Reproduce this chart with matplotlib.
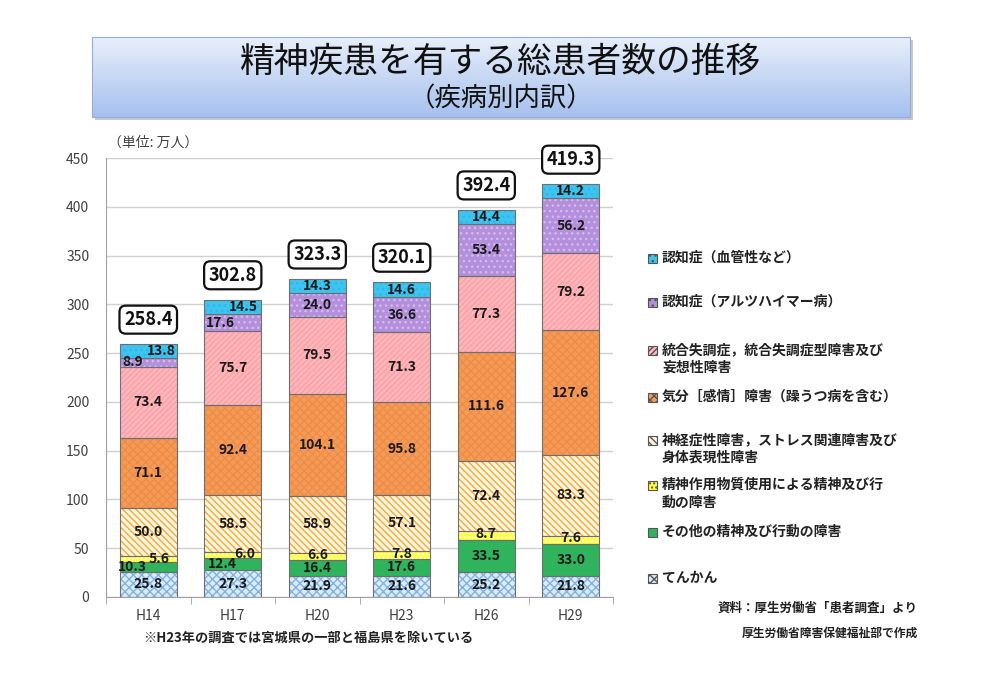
import numpy as np
import matplotlib
matplotlib.use("Agg")
import matplotlib.pyplot as plt
from matplotlib.patches import Rectangle

plt.rcParams['font.family'] = ['Noto Sans CJK JP', 'DejaVu Sans']
plt.rcParams['hatch.linewidth'] = 1.0

# データ（単位: 万人）
years = ['H14', 'H17', 'H20', 'H23', 'H26', 'H29']
tenkan = [25.8, 27.3, 21.9, 21.6, 25.2, 21.8]
sonota = [10.3, 12.4, 16.4, 17.6, 33.5, 33.0]
busshitsu = [5.6, 6.0, 6.6, 7.8, 8.7, 7.6]
shinkei = [50.0, 58.5, 58.9, 57.1, 72.4, 83.3]
kibun = [71.1, 92.4, 104.1, 95.8, 111.6, 127.6]
togo = [73.4, 75.7, 79.5, 71.3, 77.3, 79.2]
alz = [8.9, 17.6, 24.0, 36.6, 53.4, 56.2]
kekkan = [13.8, 14.5, 14.3, 14.6, 14.4, 14.2]
totals = [258.4, 302.8, 323.3, 320.1, 392.4, 419.3]

series_names = [
    'てんかん',
    'その他の精神及び行動の障害',
    '精神作用物質使用による精神及び行\n動の障害',
    '神経症性障害，ストレス関連障害及び\n身体表現性障害',
    '気分［感情］障害（躁うつ病を含む）',
    '統合失調症，統合失調症型障害及び\n妄想性障害',
    '認知症（アルツハイマー病）',
    '認知症（血管性など）',
]
series = [tenkan, sonota, busshitsu, shinkei, kibun, togo, alz, kekkan]

# (面の色, ハッチ, ハッチの色)
styles = [
    ('#dcebf8', 'xxxx', '#7fb3e3'),
    ('#2fb35c', '', '#2fb35c'),
    ('#ffff3a', '....', '#ffffff'),
    ('#fff6e2', '\\\\\\\\\\', '#f6a833'),
    ('#f59b58', 'xxxx', '#ef8d48'),
    ('#ffb5b9', '//////', '#f7a2a7'),
    ('#b48fdb', '...', '#d3bdf0'),
    ('#3cc5f0', '...', '#33b6e2'),
]

# 小さい値のラベル位置の微調整 (年, 系列) -> (x, y) のずれ
label_shift = {(0, 1): (-0.19, 0), (0, 2): (0.13, 0), (0, 6): (-0.18, 0), (0, 7): (0.16, 0),
               (1, 1): (-0.12, 0), (1, 2): (0.14, 1.5), (1, 6): (-0.15, 0), (1, 7): (0.12, 0),
               (2, 2): (0, 1.5), (3, 2): (0, 1), (4, 2): (0, 1.5), (5, 2): (0, 1.5)}

fig = plt.figure(figsize=(10.02, 6.83), dpi=100)
W, H = 1002, 683

def fx(px):
    return px / W

def fy(py):
    return 1 - py / H

# タイトルボックス（影 + グラデーション）
sax = fig.add_axes([fx(95), fy(120), fx(818), 80 / H])
sax.set_facecolor('#c8c8c8')
sax.set_xticks([])
sax.set_yticks([])
for s in sax.spines.values():
    s.set_visible(False)
tax = fig.add_axes([fx(92), fy(117), fx(818), 80 / H])
top_c = np.array(matplotlib.colors.to_rgb('#e8effa'))
bot_c = np.array(matplotlib.colors.to_rgb('#a6c0ee'))
t = np.linspace(0, 1, 100)[:, None]
grad = (top_c[None, :] * (1 - t) + bot_c[None, :] * t)[:, None, :]
tax.imshow(grad, aspect='auto', extent=[0, 1, 0, 1])
tax.set_xticks([])
tax.set_yticks([])
for s in tax.spines.values():
    s.set_color('#93aedb')
fig.text(0.5, fy(62), '精神疾患を有する総患者数の推移', ha='center', va='center',
         fontsize=25, color='#111111')
fig.text(0.5, fy(99), '（疾病別内訳）', ha='center', va='center',
         fontsize=19, color='#111111')

# メインのグラフ
ax = fig.add_axes([fx(106), fy(597), fx(507), (597 - 158) / H])
x = np.arange(len(years))
width = 0.67
bottom = np.zeros(len(years))
for i, (vals, (fc, hatch, hc)) in enumerate(zip(series, styles)):
    vals = np.array(vals)
    ax.bar(x, vals, width, bottom=bottom, color=fc, edgecolor=hc, hatch=hatch,
           linewidth=0, zorder=2)
    ax.bar(x, vals, width, bottom=bottom, fill=False, edgecolor='#6f6f6f',
           linewidth=0.8, zorder=3)
    for j, v in enumerate(vals):
        dx, dy = label_shift.get((j, i), (0, 0))
        ax.text(x[j] + dx, bottom[j] + v / 2 + dy, f'{v:.1f}', ha='center', va='center',
                fontsize=10, fontweight='bold', color='#1a1a1a', zorder=4)
    bottom += vals

for j, tot in enumerate(totals):
    ax.annotate(f'{tot:.1f}', (x[j], bottom[j]), xytext=(0, 11), textcoords='offset points',
                ha='center', va='bottom', fontsize=13, fontweight='bold', color='#111111',
                bbox=dict(boxstyle='round,pad=0.25,rounding_size=0.35', fc='white',
                          ec='#111111', lw=1.6), zorder=5)

ax.set_ylim(0, 450)
ax.set_xlim(-0.5, len(years) - 0.5)
ax.set_yticks(np.arange(0, 451, 50))
ax.set_xticks(x)
ax.set_xticklabels(years)
ax.set_xticks(np.arange(-0.5, len(years), 1), minor=True)
ax.tick_params(axis='x', which='major', length=0, pad=9, labelsize=10, labelcolor='#404040')
ax.tick_params(axis='x', which='minor', length=5, color='#a0a0a0', direction='out')
ax.tick_params(axis='y', length=0, pad=12, labelsize=10, labelcolor='#404040')
ax.grid(axis='y', color='#d0d0d0', linewidth=1, zorder=0)
ax.set_axisbelow(True)
for side in ['top', 'right']:
    ax.spines[side].set_visible(False)
ax.spines['left'].set_color('#a0a0a0')
ax.spines['bottom'].set_color('#a0a0a0')

fig.text(fx(108), fy(143), '（単位: 万人）', ha='left', va='center', fontsize=10, color='#404040')

# 凡例（上から）
legend_y = [258, 302, 350, 397, 440, 485, 532, 578]
for k, yy in enumerate(legend_y):
    idx = len(series) - 1 - k
    fc, hatch, hc = styles[idx]
    fig.patches.append(Rectangle((fx(648), fy(yy + 5)), fx(9), 9 / H, transform=fig.transFigure,
                                 facecolor=fc, edgecolor='#555555', linewidth=0.8,
                                 hatch=hatch if hatch else None))
    for li, line in enumerate(series_names[idx].split('\n')):
        fig.text(fx(662), fy(yy + li * 18), line, ha='left', va='center',
                 fontsize=10, fontweight='bold', color='#222222')

fig.text(fx(143), fy(638), '※H23年の調査では宮城県の一部と福島県を除いている', ha='left', va='center',
         fontsize=9.5, fontweight='bold', color='#222222')
fig.text(fx(918), fy(608), '資料：厚生労働省「患者調査」より', ha='right', va='center',
         fontsize=9, fontweight='bold', color='#222222')
fig.text(fx(918), fy(633), '厚生労働省障害保健福祉部で作成', ha='right', va='center',
         fontsize=8.5, fontweight='bold', color='#222222')

fig.savefig('out.png', dpi=100)
